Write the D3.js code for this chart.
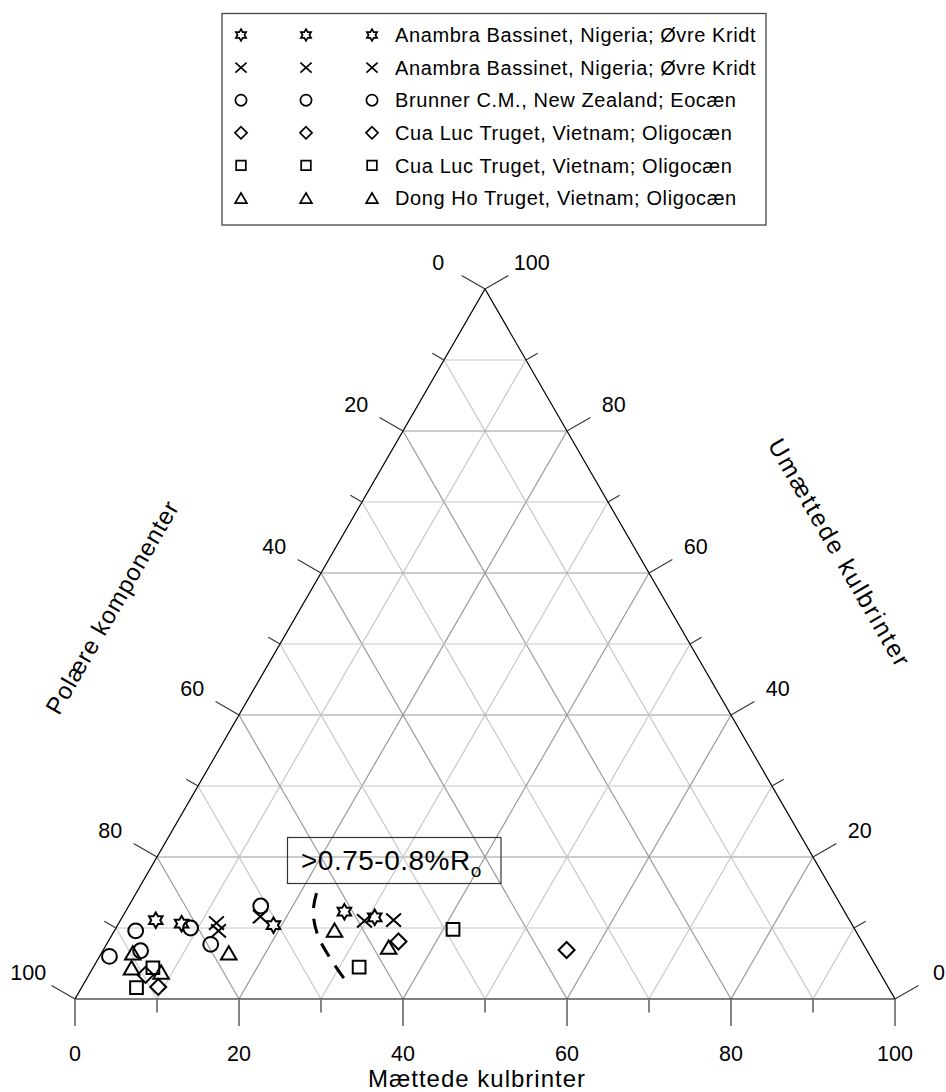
<!DOCTYPE html>
<html>
<head>
<meta charset="utf-8">
<script src="https://cdn.jsdelivr.net/npm/d3@7"></script>
<style>
  body { margin: 0; background: #fff; }
  svg { display: block; }
  text { font-family: "Liberation Sans", Arial, Helvetica, sans-serif; fill: #000; }
</style>
</head>
<body>
<svg id="chart" width="946" height="1092"></svg>
<script>
// Legend entries and marker type for each series
const seriesLabels = [
  "Anambra Bassinet, Nigeria; Øvre Kridt",
  "Anambra Bassinet, Nigeria; Øvre Kridt",
  "Brunner C.M., New Zealand; Eocæn",
  "Cua Luc Truget, Vietnam; Oligocæn",
  "Cua Luc Truget, Vietnam; Oligocæn",
  "Dong Ho Truget, Vietnam; Oligocæn"
];
const seriesSymbols = ["star", "cross", "circle", "diamond", "square", "triangle"];

// Samples as [Mættede, Umættede, Polære] in percent
const anambraStar = [[4.3, 11.1, 84.6], [7.7, 10.6, 81.7], [19.0, 10.4, 70.6], [26.7, 12.3, 61.0], [30.8, 11.5, 57.7]];
const anambraCross = [[11.9, 10.7, 77.4], [12.7, 9.6, 77.7], [16.8, 11.6, 71.6], [29.8, 11.0, 59.2], [33.3, 11.1, 55.6]];
const brunner = [[1.2, 6.0, 92.8], [2.6, 9.6, 87.8], [4.6, 6.8, 88.6], [9.1, 10.0, 80.9], [12.7, 7.7, 79.6], [16.1, 13.1, 70.8]];
const cuaLucDiamond = [[6.9, 3.4, 89.7], [9.3, 1.7, 89.0], [35.4, 8.1, 56.5], [56.5, 6.9, 36.6]];
const cuaLucSquare = [[7.3, 4.4, 88.3], [6.7, 1.6, 91.7], [32.4, 4.5, 63.1], [41.2, 9.8, 49.0]];
const dongHo = [[3.8, 6.5, 89.7], [4.7, 4.4, 90.9], [8.6, 3.8, 87.6], [15.5, 6.5, 78.0], [26.8, 9.7, 63.5], [34.6, 7.3, 58.1]];
const seriesData = [anambraStar, anambraCross, brunner, cuaLucDiamond, cuaLucSquare, dongHo];

// Maturity boundary (dashed) as [Mættede, Umættede]
const boundaryCurve = [[22.0, 14.9], [22.9, 12.3], [25.1, 9.0], [28.5, 5.5], [31.8, 2.5]];
const boundaryText = ">0.75-0.8%R";
const boundarySub = "o";

// Axis titles
const bottomTitle = "Mættede kulbrinter";
const leftTitle = "Polære komponenter";
const rightTitle = "Umættede kulbrinter";

const svg = d3.select("#chart");

// Ternary projection: bottom = Mættede (0 left .. 100 right), apex = Umættede 100
const xS = d3.scaleLinear().domain([0, 100]).range([75, 895]);
const xU = d3.scaleLinear().domain([0, 100]).range([0, 410]);
const yU = d3.scaleLinear().domain([0, 100]).range([999, 289]);
const proj = (s, u) => [xS(s) + xU(u), yU(u)];

const ticks = xS.ticks(10);
const isMajor = v => v % 20 === 0;

// Grid lines
const grid = svg.append("g").attr("fill", "none");
const gridSegs = [];
ticks.filter(v => v > 0 && v < 100).forEach(v => {
  gridSegs.push({ a: proj(0, v), b: proj(100 - v, v), v });      // constant Umættede
  gridSegs.push({ a: proj(v, 0), b: proj(v, 100 - v), v });      // constant Mættede
  gridSegs.push({ a: proj(100 - v, 0), b: proj(0, 100 - v), v }); // constant Polære
});
grid.selectAll("line").data(gridSegs).join("line")
  .attr("x1", d => d.a[0]).attr("y1", d => d.a[1])
  .attr("x2", d => d.b[0]).attr("y2", d => d.b[1])
  .attr("stroke", d => isMajor(d.v) ? "#9a9a9a" : "#c8c8c8")
  .attr("stroke-width", 1.2);

// Triangle outline
const corners = [proj(0, 0), proj(100, 0), proj(0, 100)];
svg.append("path")
  .attr("d", d3.line()(corners) + "Z")
  .attr("fill", "none").attr("stroke", "#000").attr("stroke-width", 1.2);

// Ticks and labels
const c30 = Math.cos(Math.PI / 6), s30 = Math.sin(Math.PI / 6);
const axes = [
  { at: v => proj(v, 0), dir: [0, 1], color: "#777", width: 1.8 },                  // Mættede
  { at: v => proj(0, 100 - v), dir: [-c30, -s30], color: "#333", width: 1.1 },      // Polære
  { at: v => proj(100 - v, v), dir: [c30, -s30], color: "#333", width: 1.1 }        // Umættede
];
axes.forEach(ax => {
  const g = svg.append("g");
  g.selectAll("line").data(ticks).join("line")
    .attr("x1", v => ax.at(v)[0]).attr("y1", v => ax.at(v)[1])
    .attr("x2", v => ax.at(v)[0] + ax.dir[0] * (isMajor(v) ? 27 : 13.5))
    .attr("y2", v => ax.at(v)[1] + ax.dir[1] * (isMajor(v) ? 27 : 13.5))
    .attr("stroke", ax.color).attr("stroke-width", ax.width);
  g.selectAll("text").data(ticks.filter(isMajor)).join("text")
    .attr("x", v => Math.min(ax.at(v)[0] + ax.dir[0] * 54, 939))
    .attr("y", v => ax.at(v)[1] + ax.dir[1] * 54)
    .attr("text-anchor", "middle").attr("dy", "0.36em")
    .attr("font-size", 21.5)
    .text(v => v);
});

// Axis titles
svg.append("text").attr("x", 477).attr("y", 1087).attr("text-anchor", "middle")
  .attr("font-size", 24).attr("letter-spacing", 1).text(bottomTitle);
svg.append("text").attr("transform", "translate(112,607) rotate(-60)")
  .attr("text-anchor", "middle").attr("dy", "0.36em")
  .attr("font-size", 24).attr("letter-spacing", 1).text(leftTitle);
svg.append("text").attr("transform", "translate(840,553) rotate(60)")
  .attr("text-anchor", "middle").attr("dy", "0.36em")
  .attr("font-size", 24.5).attr("letter-spacing", 2).text(rightTitle);

// Marker shapes
function symbolPath(type, r) {
  const p = d3.path();
  if (type === "circle") {
    p.moveTo(r, 0); p.arc(0, 0, r, 0, 2 * Math.PI);
  } else if (type === "square") {
    const h = r * 0.86;
    p.rect(-h, -h, 2 * h, 2 * h);
  } else if (type === "diamond") {
    const h = r * 1.08;
    p.moveTo(0, -h); p.lineTo(h, 0); p.lineTo(0, h); p.lineTo(-h, 0); p.closePath();
  } else if (type === "triangle") {
    const w = r * 1.05, h = r * 0.9;
    p.moveTo(0, -h); p.lineTo(w, h); p.lineTo(-w, h); p.closePath();
  } else if (type === "cross") {
    const h = r;
    p.moveTo(-h, -h * 0.9); p.lineTo(h, h * 0.9);
    p.moveTo(h, -h * 0.9); p.lineTo(-h, h * 0.9);
  } else if (type === "star") {
    const R = r * 1.05, ri = R / Math.sqrt(3);
    for (let i = 0; i < 12; i++) {
      const a = -Math.PI / 2 + i * Math.PI / 6;
      const rr = i % 2 === 0 ? R : ri;
      const x = rr * Math.cos(a), y = rr * Math.sin(a);
      if (i === 0) p.moveTo(x, y); else p.lineTo(x, y);
    }
    p.closePath();
  }
  return p.toString();
}

// Boundary curve and its label
svg.append("path")
  .attr("d", d3.line().curve(d3.curveCatmullRom.alpha(0.5))(boundaryCurve.map(d => proj(d[0], d[1]))))
  .attr("fill", "none").attr("stroke", "#000").attr("stroke-width", 3)
  .attr("stroke-dasharray", "15,11");

svg.append("rect").attr("x", 287.5).attr("y", 837.5).attr("width", 213.5).attr("height", 46)
  .attr("fill", "none").attr("stroke", "#333").attr("stroke-width", 1.2);
const lbl = svg.append("text").attr("x", 301).attr("y", 870).attr("font-size", 28).attr("letter-spacing", 0.5);
lbl.append("tspan").text(boundaryText);
lbl.append("tspan").attr("dy", 7).attr("font-size", 19).text(boundarySub);

// Data markers
const marks = svg.append("g").attr("fill", "none").attr("stroke", "#000").attr("stroke-width", 2);
seriesData.forEach((rows, i) => {
  marks.selectAll(null).data(rows).join("path")
    .attr("transform", d => `translate(${proj(d[0], d[1])})`)
    .attr("d", symbolPath(seriesSymbols[i], 7.4));
});

// Legend
const legend = svg.append("g");
legend.append("rect").attr("x", 222).attr("y", 13.5).attr("width", 544).attr("height", 211.5)
  .attr("fill", "none").attr("stroke", "#444").attr("stroke-width", 1.3);
const legendCols = [241, 306, 372];
seriesLabels.forEach((label, i) => {
  const y = 35 + i * 32.6;
  legendCols.forEach(x => {
    legend.append("path").attr("transform", `translate(${x},${y})`)
      .attr("d", symbolPath(seriesSymbols[i], 5.6))
      .attr("fill", "none").attr("stroke", "#000").attr("stroke-width", 1.7);
  });
  legend.append("text").attr("x", 395).attr("y", y).attr("dy", "0.36em")
    .attr("font-size", 20).attr("letter-spacing", 0.6).text(label);
});
</script>
</body>
</html>
